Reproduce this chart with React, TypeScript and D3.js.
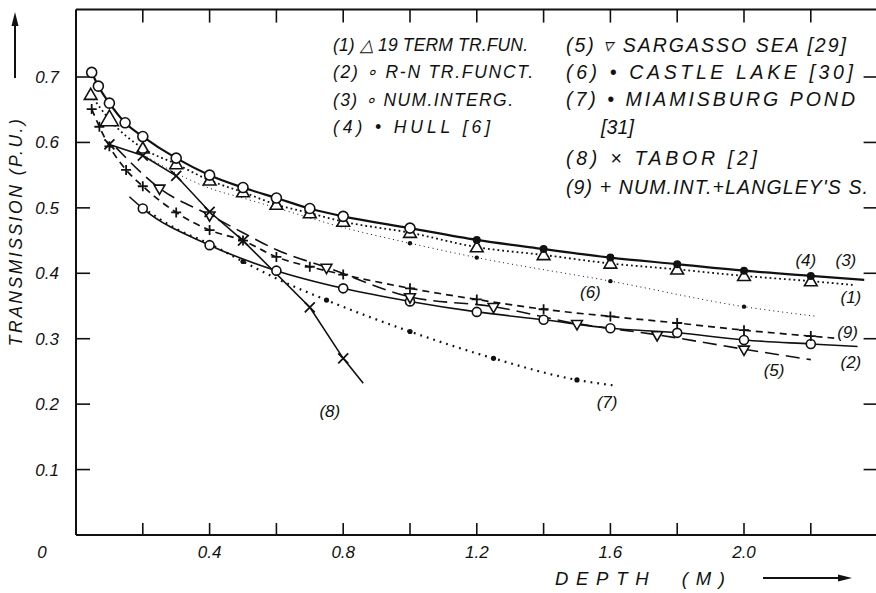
import React from "react";
import * as d3 from "d3";

const width = 876;
const height = 593;

// axis ticks
const depthTicks = [0.2, 0.4, 0.6, 0.8, 1.0, 1.2, 1.4, 1.6, 1.8, 2.0, 2.2];
const depthLabels = [0.4, 0.8, 1.2, 1.6, 2.0];
const transTicks = [0.1, 0.2, 0.3, 0.4, 0.5, 0.6, 0.7];

// (1) 19 term transfer function - triangles, dotted
const termDepth = [0.044, 0.1, 0.2, 0.3, 0.4, 0.5, 0.6, 0.7, 0.8, 1.0, 1.2, 1.4, 1.6, 1.8, 2.0, 2.2, 2.33];
const termT = [0.673, 0.635, 0.591, 0.567, 0.542, 0.524, 0.505, 0.492, 0.479, 0.462, 0.44, 0.428, 0.415, 0.406, 0.396, 0.388, 0.382];

// (2) R-N transfer function - circles, solid
const rnDepth = [0.16, 0.2, 0.4, 0.6, 0.8, 1.0, 1.2, 1.4, 1.6, 1.8, 2.0, 2.2, 2.34];
const rnT = [0.517, 0.499, 0.443, 0.404, 0.377, 0.357, 0.341, 0.329, 0.316, 0.309, 0.298, 0.292, 0.288];

// (3) numerical integration - circles, heavy solid
const numDepth = [0.047, 0.067, 0.1, 0.147, 0.2, 0.3, 0.4, 0.5, 0.6, 0.7, 0.8, 1.0, 1.2, 1.4, 1.6, 1.8, 2.0, 2.2, 2.36];
const numT = [0.707, 0.686, 0.66, 0.63, 0.609, 0.576, 0.55, 0.531, 0.515, 0.499, 0.487, 0.469, 0.451, 0.437, 0.424, 0.414, 0.404, 0.396, 0.39];

// (4) Hull - filled dots
const hullDepth = [1.2, 1.4, 1.6, 1.8, 2.0, 2.2];
const hullT = [0.451, 0.437, 0.424, 0.414, 0.404, 0.396];

// (5) Sargasso sea - down triangles, long dash
const sargDepth = [0.12, 0.25, 0.4, 0.5, 0.6, 0.75, 1.0, 1.25, 1.5, 1.74, 2.0, 2.2];
const sargT = [0.592, 0.53, 0.489, 0.462, 0.436, 0.409, 0.364, 0.349, 0.323, 0.306, 0.284, 0.268];
const sargMarks = [0.25, 0.4, 0.75, 1.0, 1.25, 1.5, 1.74, 2.0];

// (6) Castle lake - small dots, thin dotted
const castleDepth = [0.2, 0.3, 0.4, 0.5, 0.6, 0.8, 1.0, 1.2, 1.6, 2.0, 2.22];
const castleT = [0.582, 0.553, 0.53, 0.515, 0.5, 0.47, 0.446, 0.424, 0.388, 0.349, 0.334];
const castleMarks = [1.0, 1.2, 1.6, 2.0];

// (7) Miamisburg pond - dots, dotted
const miamiDepth = [0.2, 0.3, 0.4, 0.5, 0.6, 0.75, 1.0, 1.25, 1.5, 1.62];
const miamiT = [0.5, 0.468, 0.445, 0.418, 0.392, 0.359, 0.311, 0.27, 0.237, 0.228];
const miamiMarks = [0.5, 0.75, 1.0, 1.25, 1.5];

// (8) Tabor - crosses
const taborDepth = [0.1, 0.2, 0.3, 0.4, 0.5, 0.7, 0.8, 0.86];
const taborT = [0.597, 0.58, 0.549, 0.494, 0.45, 0.348, 0.27, 0.232];

// (9) num. int. + Langley's - plus, short dash
const langDepth = [0.047, 0.07, 0.1, 0.15, 0.2, 0.3, 0.4, 0.5, 0.6, 0.7, 0.8, 1.0, 1.2, 1.4, 1.6, 1.8, 2.0, 2.2, 2.27];
const langT = [0.651, 0.624, 0.594, 0.558, 0.533, 0.493, 0.466, 0.45, 0.425, 0.41, 0.398, 0.377, 0.36, 0.345, 0.334, 0.324, 0.313, 0.304, 0.301];

const legendLeft = ["(1) \u25b3 19 TERM TR.FUN.", "(2) \u2218 R-N  TR.FUNCT.", "(3) \u2218 NUM.INTERG.", "(4)  \u2022  HULL [6]"];
const legendLeftLen = [195, 200, 180, 157];
const legendRight = ["(5) \u25bf SARGASSO SEA [29]", "(6) \u2022 CASTLE LAKE [30]", "(7) \u2022 MIAMISBURG  POND", "[31]", "(8) \u00d7 TABOR [2]", "(9) + NUM.INT.+LANGLEY'S S."];
const legendRightLen = [280, 287, 289, 33, 191, 302];

const curveLabels = ["(4)", "(3)", "(1)", "(9)", "(2)", "(5)", "(6)", "(7)", "(8)"];
const curveLabelDepth = [2.185, 2.305, 2.32, 2.31, 2.32, 2.09, 1.54, 1.59, 0.76];
const curveLabelT = [0.42, 0.42, 0.364, 0.31, 0.265, 0.252, 0.372, 0.203, 0.19];

const font = "'Liberation Sans', Arial, sans-serif";

const x = d3.scaleLinear().domain([0, 2.4]).range([76, 877.6]);
const y = d3.scaleLinear().domain([0, 0.7]).range([535, 77]);
const yTop = y(0.803);

const pts = (ds: number[], vs: number[]) => ds.map((d, i) => [d, vs[i]] as [number, number]);
const pick = (ds: number[], vs: number[], marks: number[]) =>
  pts(ds, vs).filter((p) => marks.includes(p[0]));

const smooth = d3
  .line<[number, number]>()
  .x((d) => x(d[0]))
  .y((d) => y(d[1]))
  .curve(d3.curveMonotoneX);
const straight = d3
  .line<[number, number]>()
  .x((d) => x(d[0]))
  .y((d) => y(d[1]));

const triUp = d3.symbol(d3.symbolTriangle, 70)();
const triUpBig = d3.symbol(d3.symbolTriangle, 140)();
const triDown = d3.symbol(d3.symbolTriangle, 50)();

export default function App() {
  const term = pts(termDepth, termT);
  const rn = pts(rnDepth, rnT);
  const num = pts(numDepth, numT);
  const hull = pts(hullDepth, hullT);
  const sarg = pts(sargDepth, sargT);
  const castle = pts(castleDepth, castleT);
  const miami = pts(miamiDepth, miamiT);
  const tabor = pts(taborDepth, taborT);
  const lang = pts(langDepth, langT);

  return (
    <svg
      width={width}
      height={height}
      style={{ position: "absolute", left: 0, top: 0, background: "#fff" }}
      fontFamily={font}
      fontStyle="italic"
    >
      <rect width={width} height={height} fill="#fff" />

      {/* frame */}
      <g stroke="#111" strokeWidth={2} fill="none">
        <line x1={x(0)} x2={x(0)} y1={yTop} y2={y(0)} />
        <line x1={x(0)} x2={width} y1={y(0)} y2={y(0)} />
        <line x1={x(0)} x2={width} y1={yTop} y2={yTop} />
        {depthTicks.map((d) => (
          <g key={d}>
            <line x1={x(d)} x2={x(d)} y1={y(0)} y2={y(0) - 12} strokeWidth={1.6} />
            <line x1={x(d)} x2={x(d)} y1={yTop} y2={yTop + 13} strokeWidth={1.6} />
          </g>
        ))}
        {transTicks.map((t) => (
          <g key={t}>
            <line x1={x(0)} x2={x(0) + 14} y1={y(t)} y2={y(t)} strokeWidth={1.6} />
            <line x1={x(2.4) - 14} x2={x(2.4)} y1={y(t)} y2={y(t)} strokeWidth={1.6} />
          </g>
        ))}
      </g>

      {/* tick labels */}
      <g fontSize={17} fill="#111">
        {transTicks.map((t) => (
          <text key={t} x={59} y={y(t) + 6} textAnchor="end">
            {t.toFixed(1)}
          </text>
        ))}
        <text x={42} y={y(0) + 23} textAnchor="middle">0</text>
        {depthLabels.map((d) => (
          <text key={d} x={x(d)} y={y(0) + 23} textAnchor="middle">
            {d.toFixed(1)}
          </text>
        ))}
      </g>

      {/* axis titles and arrows */}
      <text
        transform={`translate(22,${y(0.462)}) rotate(-90)`}
        textAnchor="middle"
        fontSize={17.5}
        textLength={227}
        lengthAdjust="spacing"
        fill="#111"
      >
        TRANSMISSION (P.U.)
      </text>
      <line x1={15} x2={15} y1={78} y2={22} stroke="#111" strokeWidth={2} />
      <path d="M15,12 L11.5,26 L18.5,26 Z" fill="#111" />
      <text x={555} y={585} fontSize={18.5} textLength={170} lengthAdjust="spacing" fill="#111" style={{ whiteSpace: "pre" }}>
        {"DEPTH  (M)"}
      </text>
      <line x1={763} x2={842} y1={578} y2={578} stroke="#111" strokeWidth={2} />
      <path d="M852,578 L838,574.5 L838,581.5 Z" fill="#111" />

      {/* curves */}
      <g fill="none" stroke="#111">
        <path d={smooth(castle) || ""} strokeWidth={1} strokeDasharray="1 3.5" />
        <path d={smooth(term) || ""} strokeWidth={1.8} strokeDasharray="1.8 3" />
        <path d={smooth(num) || ""} strokeWidth={2.2} />
        <path d={smooth(rn) || ""} strokeWidth={1.6} />
        <path d={smooth(miami) || ""} strokeWidth={2.2} strokeDasharray="1.8 5" />
        <path d={smooth(lang) || ""} strokeWidth={1.7} strokeDasharray="7 5" />
        <path d={smooth(sarg) || ""} strokeWidth={1.6} strokeDasharray="14 7" />
        <path d={straight(tabor) || ""} strokeWidth={1.6} />
      </g>

      {/* markers */}
      <g stroke="#111" strokeWidth={1.6}>
        {term.slice(0, -1).map((p, i) => (
          <path
            key={"t" + i}
            d={p[0] === 0.1 ? triUpBig! : triUp!}
            transform={`translate(${x(p[0])},${y(p[1]) + 1})`}
            fill="#fff"
          />
        ))}
        {num.filter((p) => p[0] <= 1.0).map((p, i) => (
          <circle key={"n" + i} cx={x(p[0])} cy={y(p[1])} r={5} fill="#fff" />
        ))}
        {hull.map((p, i) => (
          <circle key={"h" + i} cx={x(p[0])} cy={y(p[1])} r={4} fill="#111" stroke="none" />
        ))}
        {rn.slice(1, -1).map((p, i) => (
          <circle key={"r" + i} cx={x(p[0])} cy={y(p[1])} r={4.5} fill="#fff" />
        ))}
        {pick(sargDepth, sargT, sargMarks).map((p, i) => (
          <path
            key={"s" + i}
            d={triDown!}
            transform={`translate(${x(p[0])},${y(p[1])}) rotate(180)`}
            fill="#fff"
          />
        ))}
        {pick(castleDepth, castleT, castleMarks).map((p, i) => (
          <circle key={"c" + i} cx={x(p[0])} cy={y(p[1])} r={2.2} fill="#111" stroke="none" />
        ))}
        {pick(miamiDepth, miamiT, miamiMarks).map((p, i) => (
          <circle key={"m" + i} cx={x(p[0])} cy={y(p[1])} r={2.6} fill="#111" stroke="none" />
        ))}
        {tabor.slice(0, -1).map((p, i) => {
          const cx = x(p[0]);
          const cy = y(p[1]);
          return (
            <path key={"x" + i} d={`M${cx - 5},${cy - 5}L${cx + 5},${cy + 5}M${cx - 5},${cy + 5}L${cx + 5},${cy - 5}`} strokeWidth={1.8} />
          );
        })}
        {lang.slice(0, -1).map((p, i) => {
          const cx = x(p[0]);
          const cy = y(p[1]);
          return (
            <path key={"p" + i} d={`M${cx - 5},${cy}L${cx + 5},${cy}M${cx},${cy - 5}L${cx},${cy + 5}`} strokeWidth={1.8} />
          );
        })}
      </g>

      {/* curve labels */}
      <g fontSize={17} fill="#111">
        {curveLabels.map((l, i) => (
          <text key={l} x={x(curveLabelDepth[i])} y={y(curveLabelT[i]) + 6} textAnchor="middle">
            {l}
          </text>
        ))}
      </g>

      {/* legend */}
      <g fill="#111" style={{ whiteSpace: "pre" }}>
        {legendLeft.map((l, i) => (
          <text key={l} x={333} y={51 + i * 27.3} fontSize={17.5} textLength={legendLeftLen[i]} lengthAdjust="spacing">
            {l}
          </text>
        ))}
        {legendRight.map((l, i) => (
          <text
            key={l}
            x={i === 3 ? 601 : 566}
            y={[52, 79, 106, 134, 165, 194][i]}
            fontSize={19.5}
            textLength={legendRightLen[i]}
            lengthAdjust="spacing"
          >
            {l}
          </text>
        ))}
      </g>
    </svg>
  );
}
